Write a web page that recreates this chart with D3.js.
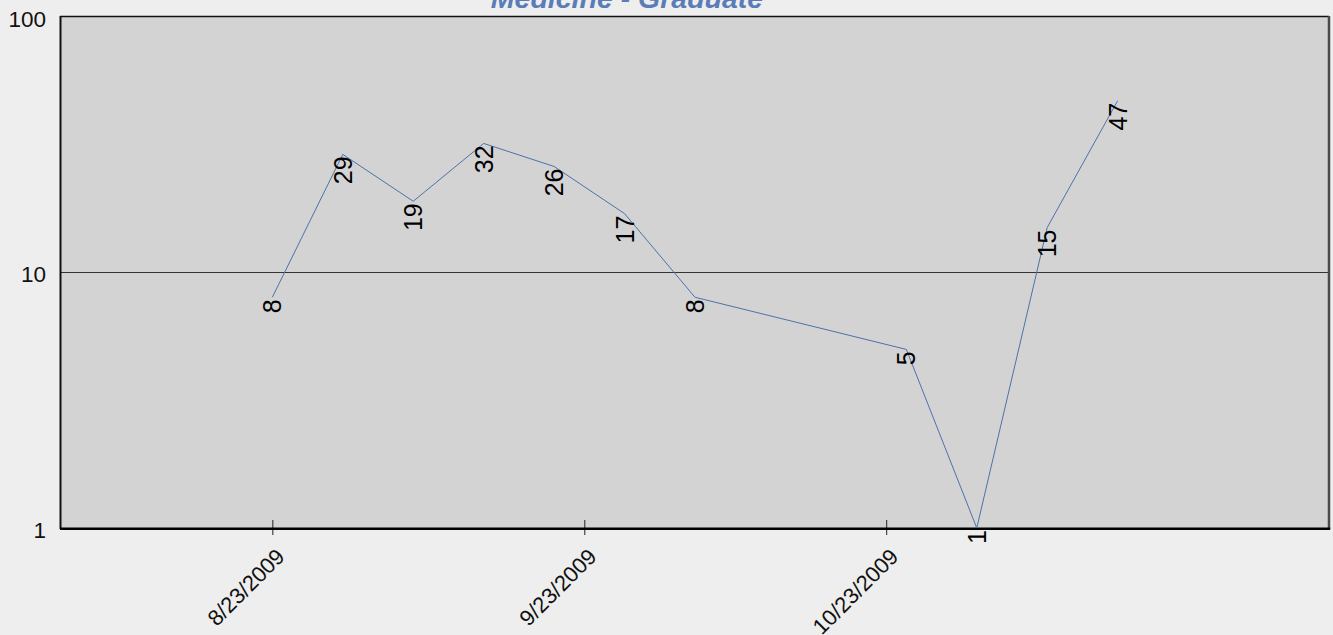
<!DOCTYPE html>
<html>
<head>
<meta charset="utf-8">
<script src="https://cdn.jsdelivr.net/npm/d3@7"></script>
<style>
  html, body { margin: 0; padding: 0; background: #eeeeee; }
  svg { display: block; font-family: "Liberation Sans", Arial, sans-serif; }
</style>
</head>
<body>
<svg id="chart" width="1333" height="635"></svg>
<script>
// ---- data ----
const title = "Medicine - Graduate";
const dates = ["2009-08-23","2009-08-30","2009-09-06","2009-09-13","2009-09-20","2009-09-27","2009-10-04","2009-10-25","2009-11-01","2009-11-08","2009-11-15"];
const values = [8, 29, 19, 32, 26, 17, 8, 5, 1, 15, 47];
const xTickDates = ["2009-08-23","2009-09-23","2009-10-23"];
const xTickLabels = ["8/23/2009","9/23/2009","10/23/2009"];
const yTicks = [1, 10, 100];
const xDomain = ["2009-08-02","2009-12-06"];

// ---- layout ----
const M = { left: 61, right: 1329, top: 17, bottom: 528 };
const parse = d3.utcParse("%Y-%m-%d");

const svg = d3.select("#chart");
const x = d3.scaleUtc().domain(xDomain.map(parse)).range([M.left, M.right]);
const y = d3.scaleLog().domain([1, 100]).range([M.bottom, M.top]);

// plot background
svg.append("rect").attr("x", M.left).attr("y", M.top)
  .attr("width", M.right - M.left).attr("height", M.bottom - M.top)
  .attr("fill", "#d3d3d3");

// gridline at 10
svg.append("line").attr("x1", M.left).attr("x2", M.right)
  .attr("y1", y(10)).attr("y2", y(10))
  .attr("stroke", "#333").attr("stroke-width", 1);

// borders
svg.append("line").attr("x1", M.left - 1).attr("x2", M.right).attr("y1", M.top - 0.5).attr("y2", M.top - 0.5)
  .attr("stroke", "#111").attr("stroke-width", 1.5);
svg.append("line").attr("x1", M.left - 0.5).attr("x2", M.left - 0.5).attr("y1", M.top - 1).attr("y2", M.bottom + 1)
  .attr("stroke", "#111").attr("stroke-width", 2);
svg.append("line").attr("x1", M.right).attr("x2", M.right).attr("y1", M.top - 1).attr("y2", M.bottom + 1)
  .attr("stroke", "#4a4a4a").attr("stroke-width", 2.5);

// y axis labels
svg.append("g").selectAll("text").data(yTicks).join("text")
  .attr("x", 46).attr("y", d => y(d) + 1.5)
  .attr("dy", "0.36em")
  .attr("text-anchor", "end")
  .attr("font-size", 22.5)
  .attr("fill", "#111")
  .text(d => d3.format("d")(d));

// x axis using d3 axis
const xAxis = d3.axisBottom(x)
  .tickValues(xTickDates.map(parse))
  .tickFormat((d, i) => xTickLabels[i])
  .tickSize(0);
const gx = svg.append("g").attr("transform", `translate(0,${M.bottom})`).call(xAxis);
gx.select(".domain").remove();
gx.selectAll(".tick line").remove();
gx.selectAll(".tick").append("line")
  .attr("y1", -8).attr("y2", 7)
  .attr("stroke", "#222").attr("stroke-width", 1);
gx.selectAll(".tick text")
  .attr("font-size", 22)
  .attr("font-family", '"Liberation Sans", Arial, sans-serif')
  .attr("fill", "#111")
  .attr("text-anchor", "end")
  .attr("x", null).attr("y", null).attr("dy", null)
  .attr("transform", "translate(13,30) rotate(-45)");

// bottom border (drawn over ticks)
svg.append("line").attr("x1", M.left - 1).attr("x2", M.right + 1.2).attr("y1", M.bottom + 0.8).attr("y2", M.bottom + 0.8)
  .attr("stroke", "#000").attr("stroke-width", 2.5);

// line series
const pts = dates.map((d, i) => ({ date: parse(d), v: values[i] }));
const line = d3.line().x(d => x(d.date)).y(d => y(d.v));
svg.append("path").datum(pts)
  .attr("d", line)
  .attr("fill", "none")
  .attr("stroke", "#4d72aa")
  .attr("stroke-width", 1);

// data labels
svg.append("g").selectAll("text").data(pts).join("text")
  .attr("transform", d => `translate(${x(d.date) + 9},${y(d.v) + 2}) rotate(-90)`)
  .attr("text-anchor", "end")
  .attr("font-size", 25)
  .attr("fill", "#000")
  .text(d => d.v);

// title
svg.append("text")
  .attr("x", 627).attr("y", 7.5)
  .attr("text-anchor", "middle")
  .attr("font-size", 28.5)
  .attr("font-weight", "bold")
  .attr("font-style", "italic")
  .attr("fill", "#5a7db8")
  .text(title);
</script>
</body>
</html>
